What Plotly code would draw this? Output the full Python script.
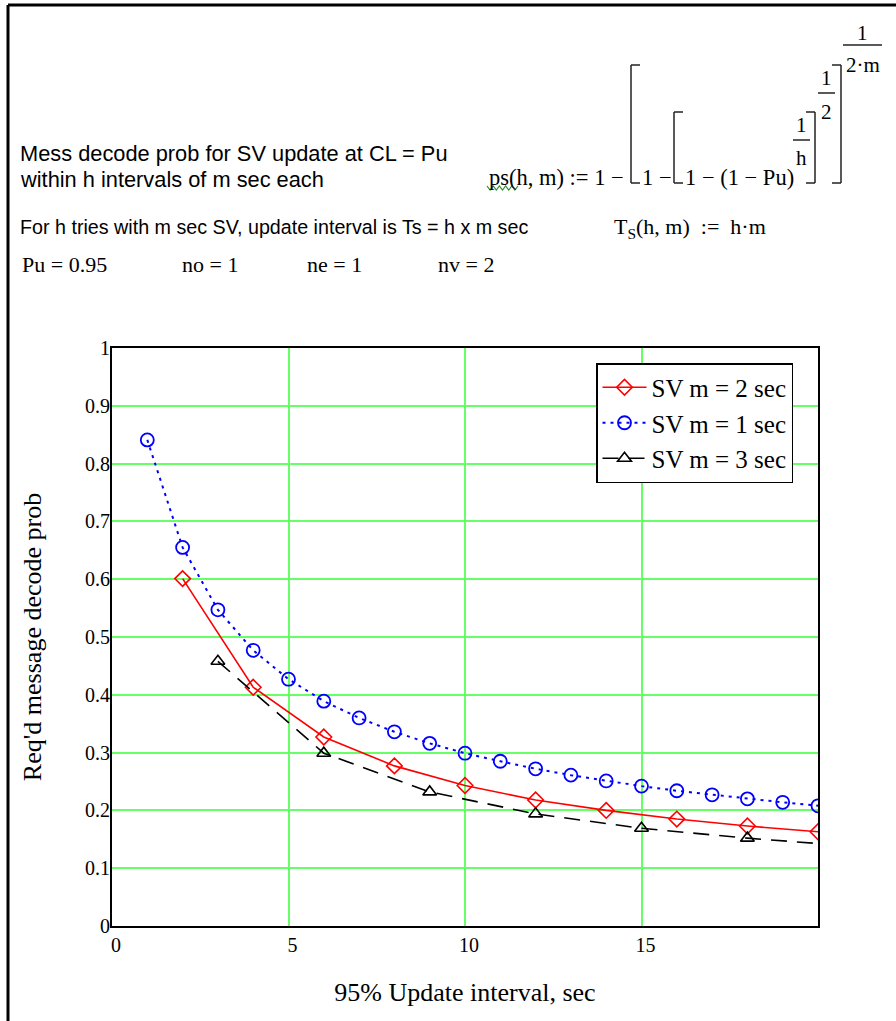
import plotly.graph_objects as go

# ---------------- data ----------------
x_m1 = [1, 2, 3, 4, 5, 6, 7, 8, 9, 10, 11, 12, 13, 14, 15, 16, 17, 18, 19, 20]
y_m1 = [0.841, 0.655, 0.547, 0.477, 0.427, 0.389, 0.360, 0.336, 0.316, 0.299,
        0.285, 0.272, 0.261, 0.251, 0.242, 0.234, 0.227, 0.220, 0.214, 0.208]
x_m2 = [2, 4, 6, 8, 10, 12, 14, 16, 18, 20]
y_m2 = [0.601, 0.413, 0.327, 0.277, 0.243, 0.218, 0.200, 0.185, 0.173, 0.163]
x_m3 = [3, 6, 9, 12, 15, 18, 21]
y_m3 = [0.458, 0.299, 0.232, 0.194, 0.169, 0.152, 0.138]

names = ["SV m = 2 sec", "SV m = 1 sec", "SV m = 3 sec"]
x_ticks = [0, 5, 10, 15]
y_ticks = [0, 0.1, 0.2, 0.3, 0.4, 0.5, 0.6, 0.7, 0.8, 0.9, 1]
y_tick_text = ["0", "0.1", "0.2", "0.3", "0.4", "0.5", "0.6", "0.7", "0.8", "0.9", "1"]

# ---------------- layout geometry ----------------
FIG_W, FIG_H = 896, 1021
L, R, T, B = 112, 818, 348, 926
W, H = R - L, B - T

SERIF = "Liberation Serif, Times New Roman, serif"
SANS = "Liberation Sans, Arial, sans-serif"
NB = "\u00a0"


def px(x):
    return (x - L) / W


def py(y):
    return (B - y) / H


fig = go.Figure()
fig.add_trace(go.Scatter(
    x=x_m2, y=y_m2, name=names[0], mode="lines+markers",
    line=dict(color="#ff0000", width=1.6),
    marker=dict(symbol="diamond-open", size=12, color="#ff0000", line=dict(width=1.6)),
))
fig.add_trace(go.Scatter(
    x=x_m1, y=y_m1, name=names[1], mode="lines+markers",
    line=dict(color="#0000ff", width=2, dash="3px,5px"),
    marker=dict(symbol="circle-open", size=13, color="#0000ff", line=dict(width=1.8)),
))
fig.add_trace(go.Scatter(
    x=x_m3, y=y_m3, name=names[2], mode="lines+markers",
    line=dict(color="#000000", width=1.6, dash="16px,10px"),
    marker=dict(symbol="triangle-up-open", size=12, color="#000000", line=dict(width=1.6)),
))

annotations = []


def text(x, y, s, size, family, anchor="left"):
    annotations.append(dict(
        xref="paper", yref="paper", x=px(x), y=py(y), text=s, showarrow=False,
        xanchor=anchor, yanchor="middle", font=dict(size=size, family=family, color="black"),
    ))


# descriptive text
text(18, 154, "Mess decode prob for SV update at CL = Pu", 21.8, SANS)
text(18, 179, "within h intervals of m sec each", 21.8, SANS)
text(18, 227, "For h tries with m sec SV, update interval is Ts = h x m sec", 19.7, SANS)
text(612, 228, "T<sub>S</sub>(h," + NB + "m)" + NB + NB + ":=" + NB + NB + "h·m", 22, SERIF)
text(20, 264, "Pu" + NB + "=" + NB + "0.95", 22, SERIF)
text(180, 264, "no" + NB + "=" + NB + "1", 22, SERIF)
text(305, 264, "ne" + NB + "=" + NB + "1", 22, SERIF)
text(436, 264, "nv" + NB + "=" + NB + "2", 22, SERIF)

# formula
text(487, 177, "ps(h, m) := 1 −", 22.5, SERIF)
text(640, 177, "1 −", 22.5, SERIF)
text(683, 177, "1 − (1 − Pu)", 22.5, SERIF)
text(801.5, 125, "1", 21, SERIF, "center")
text(801.5, 158, "h", 21, SERIF, "center")
text(826.5, 78, "1", 21, SERIF, "center")
text(826.5, 112, "2", 21, SERIF, "center")
text(862.5, 33, "1", 21, SERIF, "center")
text(862.5, 65, "2·m", 21, SERIF, "center")

shapes = []


def seg(x0, y0, x1, y1, color="#222222", width=1.5):
    shapes.append(dict(type="line", xref="paper", yref="paper",
                       x0=px(x0), y0=py(y0), x1=px(x1), y1=py(y1),
                       line=dict(color=color, width=width)))


# outer page frame (left and top)
seg(8, 5, 896, 5, "black", 3)
seg(8, 5, 8, 1021, "black", 3)

# fraction bars
seg(793, 140, 810, 140)
seg(818, 93, 835, 93)
seg(843, 45, 882, 45)


# brackets
def bracket(x, top, bottom, direction):
    seg(x, top, x, bottom)
    seg(x, top, x + 9 * direction, top)
    seg(x, bottom, x + 9 * direction, bottom)


bracket(631, 65, 183, 1)
bracket(674, 112, 183, 1)
bracket(815, 112, 183, -1)
bracket(841, 65, 183, -1)

# green squiggle under "ps"
zig = "M {} {}".format(px(487), py(186))
for i in range(1, 11):
    zig += " L {} {}".format(px(487 + 3.1 * i), py(190 if i % 2 else 186))
shapes.append(dict(type="path", xref="paper", yref="paper", path=zig,
                   line=dict(color="#2e8b2e", width=1.2)))

fig.update_layout(
    width=FIG_W, height=FIG_H,
    margin=dict(l=L, r=FIG_W - R, t=T, b=FIG_H - B, autoexpand=False),
    paper_bgcolor="white", plot_bgcolor="white",
    showlegend=True,
    legend=dict(
        x=px(596), y=py(363), xanchor="left", yanchor="top",
        bgcolor="white", bordercolor="black", borderwidth=1.5,
        font=dict(family=SERIF, size=25, color="black"),
        itemwidth=44, tracegroupgap=0,
    ),
    annotations=annotations,
    shapes=shapes,
    xaxis=dict(
        range=[0, 20], tickvals=x_ticks, ticks="",
        showgrid=True, gridcolor="#66ff66", gridwidth=1.5,
        showline=True, linecolor="black", linewidth=2, mirror=True,
        zeroline=False, ticklabelshift=4,
        tickfont=dict(family=SERIF, size=20, color="black"),
        title=dict(text="95% Update interval, sec", standoff=28,
                   font=dict(family=SERIF, size=26, color="black")),
    ),
    yaxis=dict(
        range=[0, 1], tickvals=y_ticks, ticktext=y_tick_text, ticks="",
        showgrid=True, gridcolor="#66ff66", gridwidth=1.5,
        showline=True, linecolor="black", linewidth=2, mirror=True,
        zeroline=False, ticklabelstandoff=-4,
        tickfont=dict(family=SERIF, size=20, color="black"),
        title=dict(text="Req'd message decode prob", standoff=36,
                   font=dict(family=SERIF, size=26, color="black")),
    ),
)

fig.write_html("out.html")
